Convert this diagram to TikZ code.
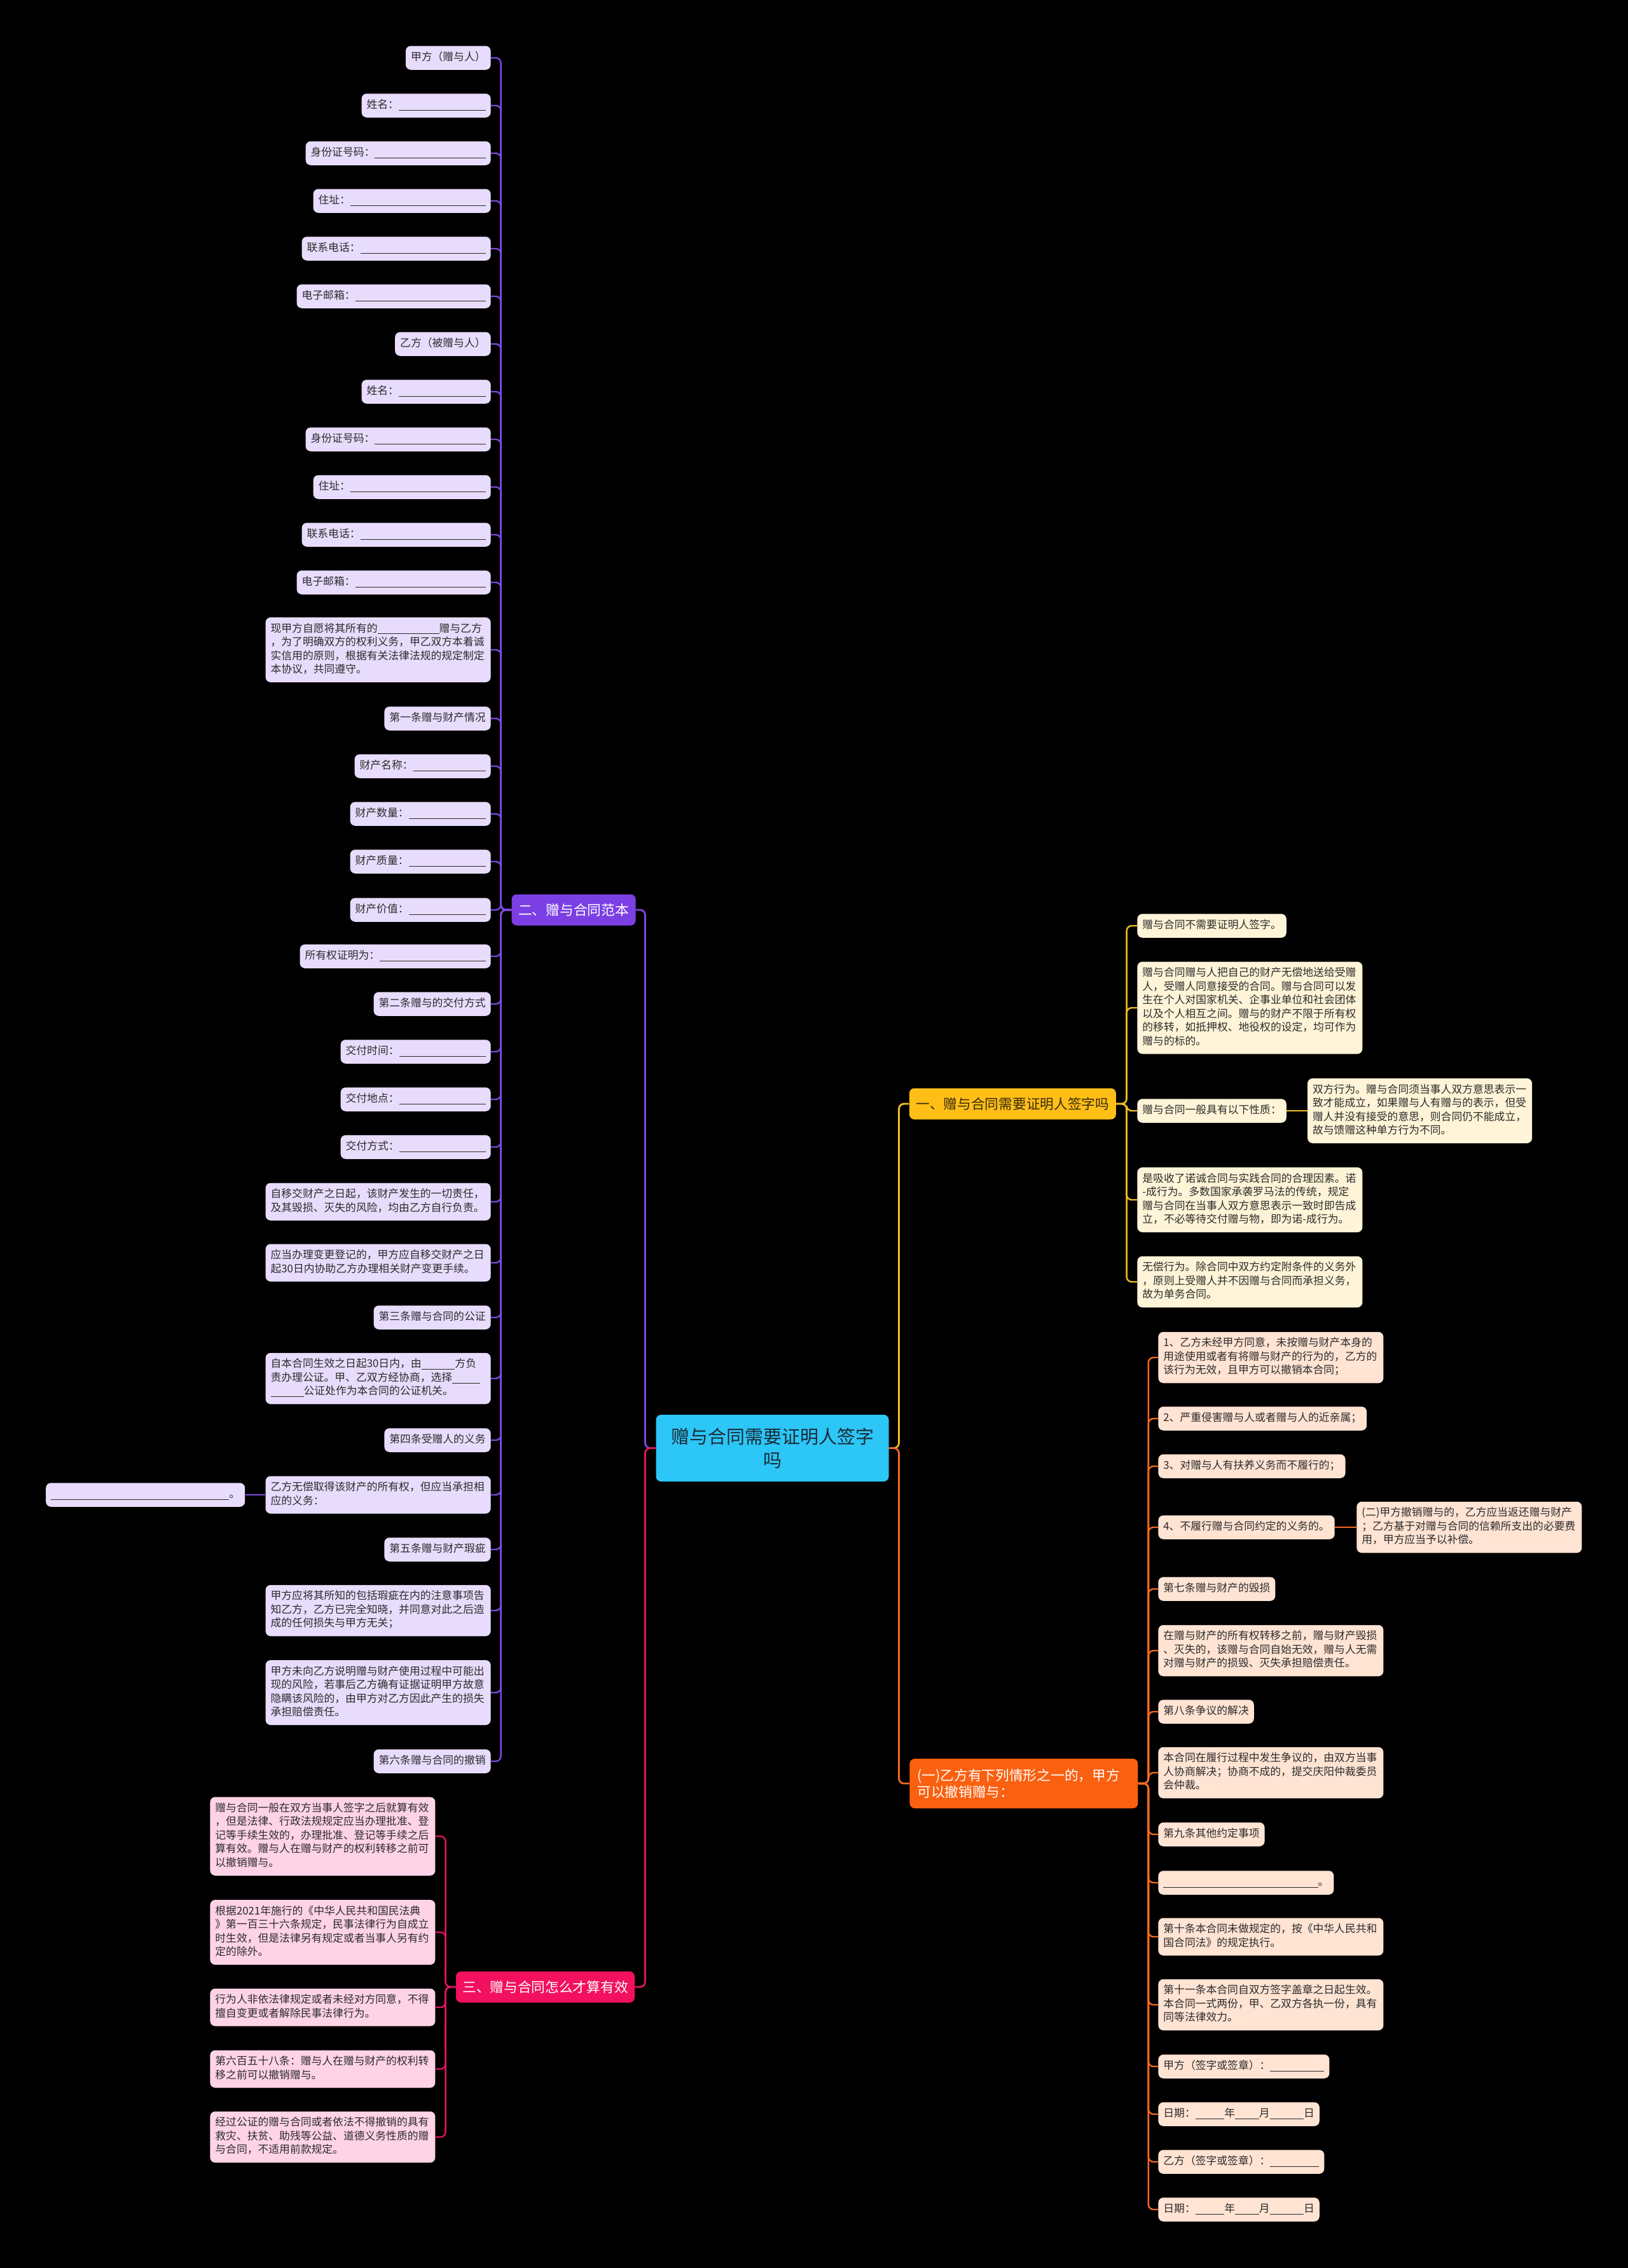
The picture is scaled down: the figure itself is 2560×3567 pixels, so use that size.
\documentclass[tikz,border=0pt]{standalone}
\usepackage{fontspec}
\setmainfont{Noto Sans CJK SC}
\definecolor{cp}{HTML}{7E48DC}
\definecolor{sp}{HTML}{7B3FE4}
\definecolor{cyl}{HTML}{F5BF24}
\definecolor{sy}{HTML}{FFBF17}
\definecolor{syt}{HTML}{3A2C0A}
\definecolor{col}{HTML}{F26A22}
\definecolor{so}{HTML}{FA600F}
\definecolor{ck}{HTML}{E3135F}
\definecolor{sk}{HTML}{F2105F}
\definecolor{rootf}{HTML}{2CC6F7}
\definecolor{roott}{HTML}{1B2A35}
\definecolor{lp}{HTML}{E8DCFC}
\definecolor{ly}{HTML}{FFF4D7}
\definecolor{lo}{HTML}{FFE3D3}
\definecolor{lk}{HTML}{FFD3E6}
\definecolor{lt}{HTML}{2B2B2B}
\newcommand\lf{\fontsize{8.4}{10.75}\selectfont}
\newcommand\ls{\rule[-3.225pt]{0pt}{10.75pt}}
\newcommand\blank{\leavevmode\leaders\hrule height -1.2pt depth 1.7pt\hskip 0pt plus 1filll\kern0pt}
\newcommand\ublank[1]{\rule[-1.7pt]{#1}{0.5pt}}
\tikzset{
  leaf/.style={rectangle, rounded corners=4pt, inner xsep=4pt, inner ysep=4pt, font=\lf, text=lt, align=left, execute at begin node=\ls, execute at end node=\ls},
  lpn/.style={leaf, fill=lp},
  lyn/.style={leaf, fill=ly},
  lon/.style={leaf, fill=lo},
  lkn/.style={leaf, fill=lk},
  sec/.style={rectangle, rounded corners=4pt, inner sep=0pt, font=\fontsize{10.85}{13}\selectfont, align=center, minimum height=24.5pt},
  rootn/.style={rectangle, rounded corners=4pt, inner sep=0pt, fill=rootf, text=roott, font=\fontsize{14.5}{18.5}\selectfont, align=center, minimum width=183pt, minimum height=52.5pt},
  conn/.style={line width=1.2pt, rounded corners=4pt},
  pl/.style={conn, draw=cp},
  yl/.style={conn, draw=cyl},
  ol/.style={conn, draw=col},
  kl/.style={conn, draw=ck},
}
\begin{document}
\begin{tikzpicture}[x=0.5pt, y=-0.5pt]
\fill[black] (0,0) rectangle (2560,3567);
\useasboundingbox (0,0) rectangle (2560,3567);

% root
\node[rootn] (root) at (1214.5,2277.5) {赠与合同需要证明人签字\\吗};

% section 2 (purple)
\node[sec, fill=sp, text=white, minimum width=97.5pt] (s2) at (902,1431) {二、赠与合同范本};
\node[lpn, anchor=east] (p1) at (772,91) {甲方（赠与人）};
\node[lpn, anchor=east, text width=93.5pt] (p2) at (772,166) {姓名：\blank};
\node[lpn, anchor=east, text width=137.5pt] (p3) at (772,241) {身份证号码：\blank};
\node[lpn, anchor=east, text width=131.5pt] (p4) at (772,316) {住址：\blank};
\node[lpn, anchor=east, text width=140.5pt] (p5) at (772,391) {联系电话：\blank};
\node[lpn, anchor=east, text width=144.5pt] (p6) at (772,466) {电子邮箱：\blank};
\node[lpn, anchor=east] (p7) at (772,541) {乙方（被赠与人）};
\node[lpn, anchor=east, text width=93.5pt] (p8) at (772,616) {姓名：\blank};
\node[lpn, anchor=east, text width=137.5pt] (p9) at (772,691) {身份证号码：\blank};
\node[lpn, anchor=east, text width=131.5pt] (p10) at (772,766) {住址：\blank};
\node[lpn, anchor=east, text width=140.5pt] (p11) at (772,841) {联系电话：\blank};
\node[lpn, anchor=east, text width=144.5pt] (p12) at (772,916) {电子邮箱：\blank};
\node[lpn, anchor=east, text width=169pt] (p13) at (772,1022) {现甲方自愿将其所有的\ublank{48.5pt}赠与乙方\\，为了明确双方的权利义务，甲乙双方本着诚\\实信用的原则，根据有关法律法规的规定制定\\本协议，共同遵守。};
\node[lpn, anchor=east] (p14) at (772,1130) {第一条赠与财产情况};
\node[lpn, anchor=east, text width=99pt] (p15) at (772,1205) {财产名称：\blank};
\node[lpn, anchor=east, text width=102.5pt] (p16) at (772,1280) {财产数量：\blank};
\node[lpn, anchor=east, text width=102.5pt] (p17) at (772,1355) {财产质量：\blank};
\node[lpn, anchor=east, text width=102.5pt] (p18) at (772,1431) {财产价值：\blank};
\node[lpn, anchor=east, text width=142pt] (p19) at (772,1504) {所有权证明为：\blank};
\node[lpn, anchor=east] (p20) at (772,1579) {第二条赠与的交付方式};
\node[lpn, anchor=east, text width=110pt] (p21) at (772,1654) {交付时间：\blank};
\node[lpn, anchor=east, text width=110pt] (p22) at (772,1729) {交付地点：\blank};
\node[lpn, anchor=east, text width=110pt] (p23) at (772,1804) {交付方式：\blank};
\node[lpn, anchor=east, text width=169pt] (p24) at (772,1890) {自移交财产之日起，该财产发生的一切责任，\\及其毁损、灭失的风险，均由乙方自行负责。};
\node[lpn, anchor=east, text width=169pt] (p25) at (772,1986) {应当办理变更登记的，甲方应自移交财产之日\\起30日内协助乙方办理相关财产变更手续。};
\node[lpn, anchor=east] (p26) at (772,2072) {第三条赠与合同的公证};
\node[lpn, anchor=east, text width=169pt] (p27) at (772,2168) {自本合同生效之日起30日内，由\ublank{26.4pt}方负\\责办理公证。甲、乙双方经协商，选择\ublank{21.7pt}\\\ublank{26pt}公证处作为本合同的公证机关。};
\node[lpn, anchor=east] (p28) at (772,2265) {第四条受赠人的义务};
\node[lpn, anchor=east, text width=169pt] (p29) at (772,2351) {乙方无偿取得该财产的所有权，但应当承担相\\应的义务：};
\node[lpn, anchor=east, text width=148.5pt] (p29c) at (385.6,2351) {\blank。};
\node[lpn, anchor=east] (p30) at (772,2437) {第五条赠与财产瑕疵};
\node[lpn, anchor=east, text width=169pt] (p31) at (772,2533) {甲方应将其所知的包括瑕疵在内的注意事项告\\知乙方，乙方已完全知晓，并同意对此之后造\\成的任何损失与甲方无关；};
\node[lpn, anchor=east, text width=169pt] (p32) at (772,2662) {甲方未向乙方说明赠与财产使用过程中可能出\\现的风险，若事后乙方确有证据证明甲方故意\\隐瞒该风险的，由甲方对乙方因此产生的损失\\承担赔偿责任。};
\node[lpn, anchor=east] (p33) at (772,2770) {第六条赠与合同的撤销};
\foreach \i in {1,...,33} \draw[pl] (s2.west) -- ++(-16.5,0) |- (p\i.east);
\draw[pl] (p29.west) -- (p29c.east);

% section 3 (pink)
\node[sec, fill=sk, text=white, minimum width=140.5pt] (s3) at (857.5,3125) {三、赠与合同怎么才算有效};
\node[lkn, anchor=east, text width=169pt] (k1) at (684.8,2888) {赠与合同一般在双方当事人签字之后就算有效\\，但是法律、行政法规规定应当办理批准、登\\记等手续生效的，办理批准、登记等手续之后\\算有效。赠与人在赠与财产的权利转移之前可\\以撤销赠与。};
\node[lkn, anchor=east, text width=169pt] (k2) at (684.8,3039) {根据2021年施行的《中华人民共和国民法典\\》第一百三十六条规定，民事法律行为自成立\\时生效，但是法律另有规定或者当事人另有约\\定的除外。};
\node[lkn, anchor=east, text width=169pt] (k3) at (684.8,3157) {行为人非依法律规定或者未经对方同意，不得\\擅自变更或者解除民事法律行为。};
\node[lkn, anchor=east, text width=169pt] (k4) at (684.8,3254) {第六百五十八条：赠与人在赠与财产的权利转\\移之前可以撤销赠与。};
\node[lkn, anchor=east, text width=169pt] (k5) at (684.8,3361) {经过公证的赠与合同或者依法不得撤销的具有\\救灾、扶贫、助残等公益、道德义务性质的赠\\与合同，不适用前款规定。};
\foreach \i in {1,...,5} \draw[kl] (s3.west) -- ++(-16,0) |- (k\i.east);

% section 1 (yellow)
\node[sec, fill=sy, text=syt, minimum width=162.5pt] (s1) at (1592.3,1736) {一、赠与合同需要证明人签字吗};
\node[lyn, anchor=west] (y1) at (1788,1456) {赠与合同不需要证明人签字。};
\node[lyn, anchor=west, text width=169pt] (y2) at (1788,1585) {赠与合同赠与人把自己的财产无偿地送给受赠\\人，受赠人同意接受的合同。赠与合同可以发\\生在个人对国家机关、企事业单位和社会团体\\以及个人相互之间。赠与的财产不限于所有权\\的移转，如抵押权、地役权的设定，均可作为\\赠与的标的。};
\node[lyn, anchor=west] (y3) at (1788,1747) {赠与合同一般具有以下性质：};
\node[lyn, anchor=west, text width=168.5pt] (y3c) at (2055.7,1747) {双方行为。赠与合同须当事人双方意思表示一\\致才能成立，如果赠与人有赠与的表示，但受\\赠人并没有接受的意思，则合同仍不能成立，\\故与馈赠这种单方行为不同。};
\node[lyn, anchor=west, text width=169pt] (y4) at (1788,1887) {是吸收了诺诚合同与实践合同的合理因素。诺\\-成行为。多数国家承袭罗马法的传统，规定\\赠与合同在当事人双方意思表示一致时即告成\\立，不必等待交付赠与物，即为诺-成行为。};
\node[lyn, anchor=west, text width=169pt] (y5) at (1788,2016) {无偿行为。除合同中双方约定附条件的义务外\\，原则上受赠人并不因赠与合同而承担义务，\\故为单务合同。};
\foreach \i in {1,...,5} \draw[yl] (s1.east) -- ++(16.4,0) |- (y\i.west);
\draw[yl] (y3.east) -- (y3c.west);

% section 4 (orange)
\node[sec, fill=so, text=white, anchor=west, text width=167.5pt, align=left, inner xsep=6pt, minimum height=39pt] (s4) at (1430,2805) {(一)乙方有下列情形之一的，甲方\\可以撤销赠与：};
\node[lon, anchor=west, text width=169pt] (o1) at (1821,2135) {1、乙方未经甲方同意，未按赠与财产本身的\\用途使用或者有将赠与财产的行为的，乙方的\\该行为无效，且甲方可以撤销本合同；};
\node[lon, anchor=west] (o2) at (1821,2231) {2、严重侵害赠与人或者赠与人的近亲属；};
\node[lon, anchor=west] (o3) at (1821,2306) {3、对赠与人有扶养义务而不履行的；};
\node[lon, anchor=west] (o4) at (1821,2402) {4、不履行赠与合同约定的义务的。};
\node[lon, anchor=west, text width=169pt] (o4c) at (2133,2402) {(二)甲方撤销赠与的，乙方应当返还赠与财产\\；乙方基于对赠与合同的信赖所支出的必要费\\用，甲方应当予以补偿。};
\node[lon, anchor=west] (o5) at (1821,2499) {第七条赠与财产的毁损};
\node[lon, anchor=west, text width=169pt] (o6) at (1821,2596) {在赠与财产的所有权转移之前，赠与财产毁损\\、灭失的，该赠与合同自始无效，赠与人无需\\对赠与财产的损毁、灭失承担赔偿责任。};
\node[lon, anchor=west] (o7) at (1821,2692) {第八条争议的解决};
\node[lon, anchor=west, text width=169pt] (o8) at (1821,2788) {本合同在履行过程中发生争议的，由双方当事\\人协商解决；协商不成的，提交庆阳仲裁委员\\会仲裁。};
\node[lon, anchor=west] (o9) at (1821,2885) {第九条其他约定事项};
\node[lon, anchor=west, text width=130pt] (o10) at (1821,2961) {\blank。};
\node[lon, anchor=west, text width=169pt] (o11) at (1821,3046) {第十条本合同未做规定的，按《中华人民共和\\国合同法》的规定执行。};
\node[lon, anchor=west, text width=169pt] (o12) at (1821,3153) {第十一条本合同自双方签字盖章之日起生效。\\本合同一式两份，甲、乙双方各执一份，具有\\同等法律效力。};
\node[lon, anchor=west, text width=126.5pt] (o13) at (1821,3250) {甲方（签字或签章）：\blank};
\node[lon, anchor=west] (o14) at (1821,3325) {日期：\ublank{22.8pt}年\ublank{18.8pt}月\ublank{26.7pt}日};
\node[lon, anchor=west, text width=122.5pt] (o15) at (1821,3400) {乙方（签字或签章）：\blank};
\node[lon, anchor=west] (o16) at (1821,3475) {日期：\ublank{22.8pt}年\ublank{18.8pt}月\ublank{26.7pt}日};
\foreach \i in {1,...,16} \draw[ol] (s4.east) -- ++(16,0) |- (o\i.west);
\draw[ol] (o4.east) -- (o4c.west);

% root connectors
\draw[pl, line width=1.4pt] (root.west) -- ++(-16.6,0) |- (s2.east);
\draw[kl, line width=1.4pt] (root.west) -- ++(-16.6,0) |- (s3.east);
\draw[yl, line width=1.4pt] (root.east) -- ++(15.6,0) |- (s1.west);
\draw[ol, line width=1.4pt] (root.east) -- ++(15.6,0) |- (s4.west);
\end{tikzpicture}
\end{document}
